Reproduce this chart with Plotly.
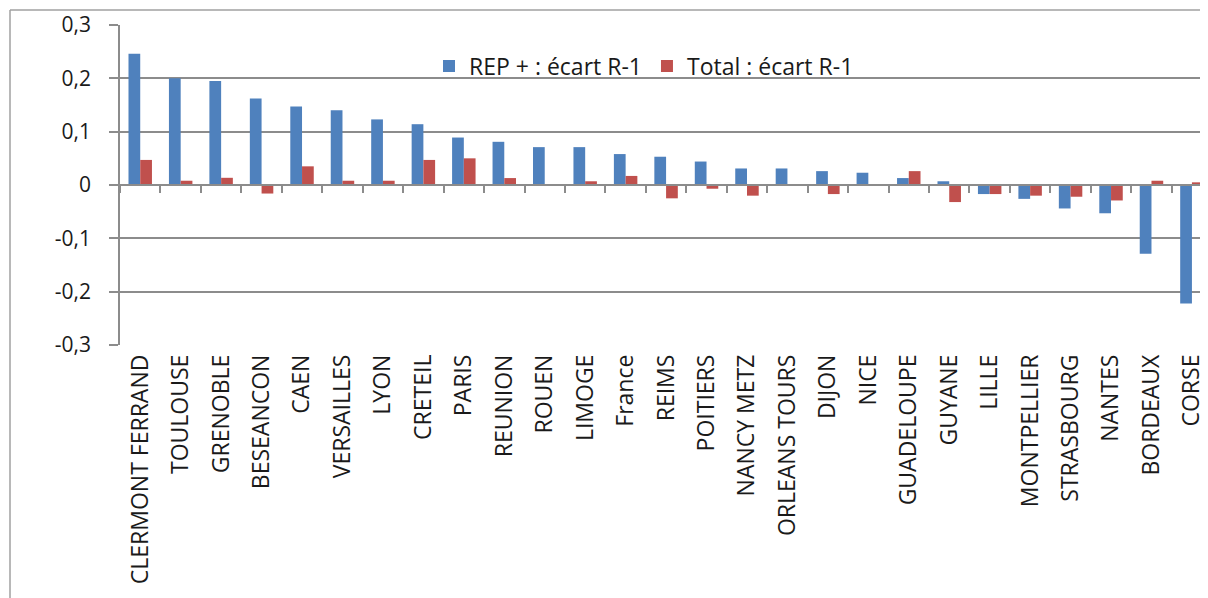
import plotly.graph_objects as go

categories = ["CLERMONT FERRAND", "TOULOUSE", "GRENOBLE", "BESEANCON", "CAEN", "VERSAILLES",
              "LYON", "CRETEIL", "PARIS", "REUNION", "ROUEN", "LIMOGE", "France", "REIMS",
              "POITIERS", "NANCY METZ", "ORLEANS TOURS", "DIJON", "NICE", "GUADELOUPE",
              "GUYANE", "LILLE", "MONTPELLIER", "STRASBOURG", "NANTES", "BORDEAUX", "CORSE"]
rep_plus = [0.246, 0.200, 0.195, 0.162, 0.147, 0.140, 0.123, 0.114, 0.089, 0.081, 0.071,
            0.071, 0.058, 0.053, 0.044, 0.031, 0.031, 0.026, 0.023, 0.013, 0.007, -0.017,
            -0.026, -0.044, -0.053, -0.129, -0.222]
total = [0.047, 0.008, 0.0135, -0.016, 0.035, 0.008, 0.008, 0.047, 0.050, 0.013, 0.0,
         0.007, 0.017, -0.025, -0.007, -0.020, 0.0, -0.017, 0.0, 0.026, -0.032, -0.017,
         -0.020, -0.022, -0.029, 0.008, 0.005]
y_tickvals = [0.3, 0.2, 0.1, 0, -0.1, -0.2, -0.3]
y_ticktext = ["0,3", "0,2", "0,1", "0", "-0,1", "-0,2", "-0,3"]

# page body has an 8px offset; the figure is sized to fit the 1208x598 window
W, H = 1200, 590
L, R, T, B = 112, 0, 17, 253
pw, ph = W - L - R, H - T - B
# the category axis continues slightly past the right edge, as in the reference
cat_px = 40.45
x_range = [-0.5, -0.5 + pw / cat_px]

grid_col = "#8c8c8c"
border_col = "#a0a0a0"
font_family = "Open Sans"

fig = go.Figure()
fig.add_trace(go.Bar(x=categories, y=rep_plus, name="REP + : écart R-1",
                     marker=dict(color="#4F81BD", line=dict(width=0))))
fig.add_trace(go.Bar(x=categories, y=total, name="Total : écart R-1",
                     marker=dict(color="#C0504D", line=dict(width=0))))
# invisible trace to host the zero-crossing category axis
fig.add_trace(go.Bar(x=categories, y=[None] * len(categories), xaxis="x2",
                     showlegend=False, hoverinfo="skip"))

bx0 = (2 - L) / pw
by1 = 1 + (T - 2) / ph
fig.update_layout(
    width=W, height=H,
    margin=dict(l=L, r=R, t=T, b=B),
    paper_bgcolor="white", plot_bgcolor="white",
    font=dict(family=font_family, size=20, color="#1a1a1a"),
    barmode="group", bargap=0.42, bargroupgap=0,
    showlegend=True,
    legend=dict(orientation="h", x=(421 - L) / pw, y=(H - B - 58) / ph,
                xanchor="left", yanchor="middle", bgcolor="rgba(0,0,0,0)",
                font=dict(size=23), itemwidth=30, tracegroupgap=0),
    xaxis=dict(type="category", range=x_range, showgrid=False, showline=False, ticks="",
               tickangle=-90, tickfont=dict(size=23), automargin=False,
               ticklabelstandoff=4),
    xaxis2=dict(type="category", overlaying="x", matches="x", anchor="free",
                position=0.5, showline=True, linecolor=grid_col, linewidth=1.5,
                ticks="outside", tickson="boundaries", ticklen=7, tickcolor=grid_col,
                tickwidth=1.5, showticklabels=False, showgrid=False),
    yaxis=dict(range=[-0.3, 0.3], tickvals=y_tickvals, ticktext=y_ticktext,
               showgrid=True, gridcolor=grid_col, gridwidth=1.5,
               zeroline=False, showline=True, linecolor=grid_col, linewidth=1.5,
               ticks="outside", ticklen=9, tickcolor=grid_col, tickwidth=1.5,
               tickfont=dict(size=21), ticklabelstandoff=14, automargin=False),
    shapes=[
        dict(type="line", xref="paper", yref="paper", x0=bx0, x1=1.0, y0=by1, y1=by1,
             line=dict(color=border_col, width=1.5), layer="below"),
        dict(type="line", xref="paper", yref="paper", x0=bx0, x1=bx0, y0=by1,
             y1=-(H - (H - B)) / ph, line=dict(color=border_col, width=1.5), layer="below"),
    ],
)

fig.write_html("out.html", config={"displayModeBar": False})
